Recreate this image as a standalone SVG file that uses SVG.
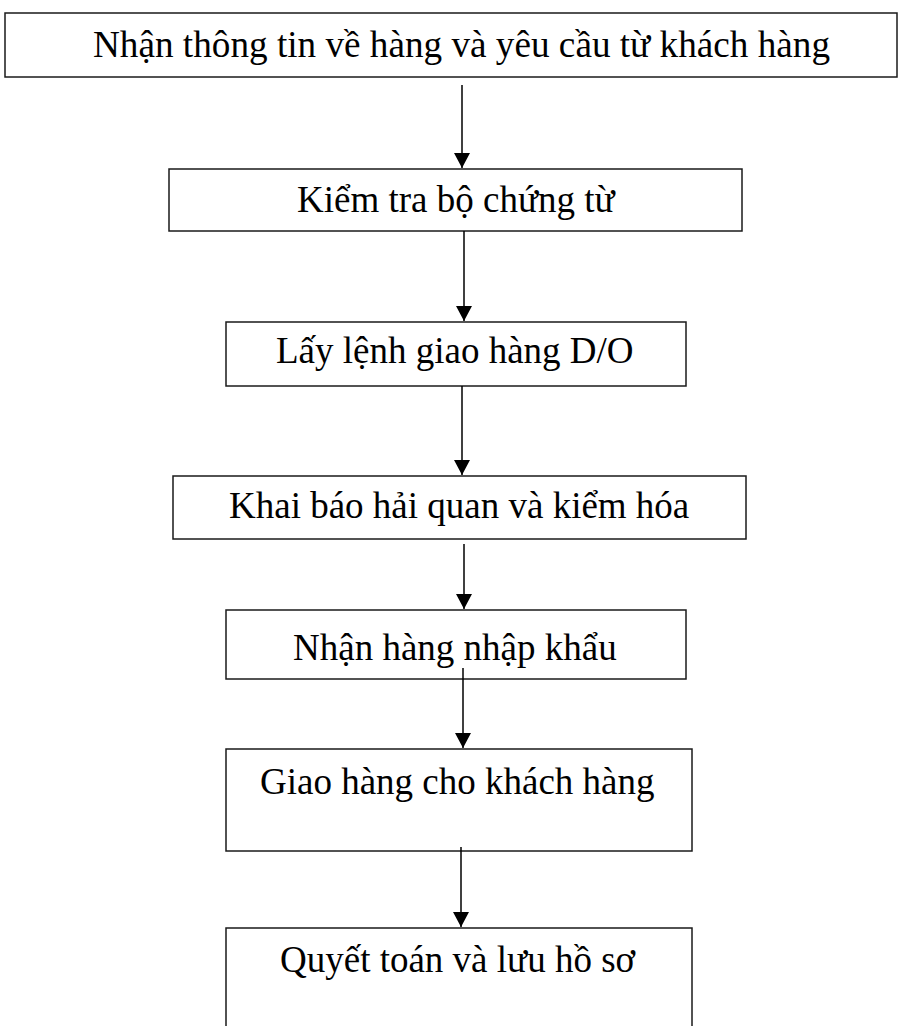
<svg xmlns="http://www.w3.org/2000/svg" width="902" height="1026" viewBox="0 0 902 1026">
<defs>
<style>
.box{fill:#fff;stroke:#1a1a1a;stroke-width:1.5}
.t{font-family:"Liberation Serif","Times New Roman",serif;font-size:37px;fill:#000}
.c{stroke:#000;stroke-width:1.5;fill:none}
</style>
<marker id="ah" markerWidth="15" markerHeight="16" refX="15" refY="8" orient="auto" markerUnits="userSpaceOnUse" viewBox="0 0 15 16">
<path d="M0,0 L15,8 L0,16 Z" fill="#000"/>
</marker>
</defs>
<rect width="902" height="1026" fill="#fff"/>
<g id="n1"><rect class="box" x="5" y="13" width="892" height="64"/><text class="t" x="93" y="57" textLength="737" lengthAdjust="spacingAndGlyphs">Nhận thông tin về hàng và yêu cầu từ khách hàng</text></g>
<g id="n2"><rect class="box" x="169" y="169" width="573" height="62"/><text class="t" x="297" y="212">Kiểm tra bộ chứng từ</text></g>
<g id="n3"><rect class="box" x="226" y="322" width="460" height="64"/><text class="t" x="276" y="363">Lấy lệnh giao hàng D/O</text></g>
<g id="n4"><rect class="box" x="173" y="476" width="573" height="63"/><text class="t" x="229" y="518">Khai báo hải quan và kiểm hóa</text></g>
<g id="n5"><rect class="box" x="226" y="610" width="460" height="69"/><text class="t" x="293" y="660">Nhận hàng nhập khẩu</text></g>
<g id="n6"><rect class="box" x="226" y="749" width="466" height="102"/><text class="t" x="260" y="794">Giao hàng cho khách hàng</text></g>
<g id="n7"><rect class="box" x="226" y="928" width="466" height="120"/><text class="t" x="280" y="972">Quyết toán và lưu hồ sơ</text></g>
<g id="connectors">
<line class="c" x1="462" y1="85" x2="462" y2="168" marker-end="url(#ah)"/>
<line class="c" x1="464" y1="231" x2="464" y2="321" marker-end="url(#ah)"/>
<line class="c" x1="462" y1="386" x2="462" y2="475" marker-end="url(#ah)"/>
<line class="c" x1="464" y1="544" x2="464" y2="609" marker-end="url(#ah)"/>
<line class="c" x1="463" y1="668" x2="463" y2="748" marker-end="url(#ah)"/>
<line class="c" x1="461" y1="847" x2="461" y2="927" marker-end="url(#ah)"/>
</g>
</svg>
